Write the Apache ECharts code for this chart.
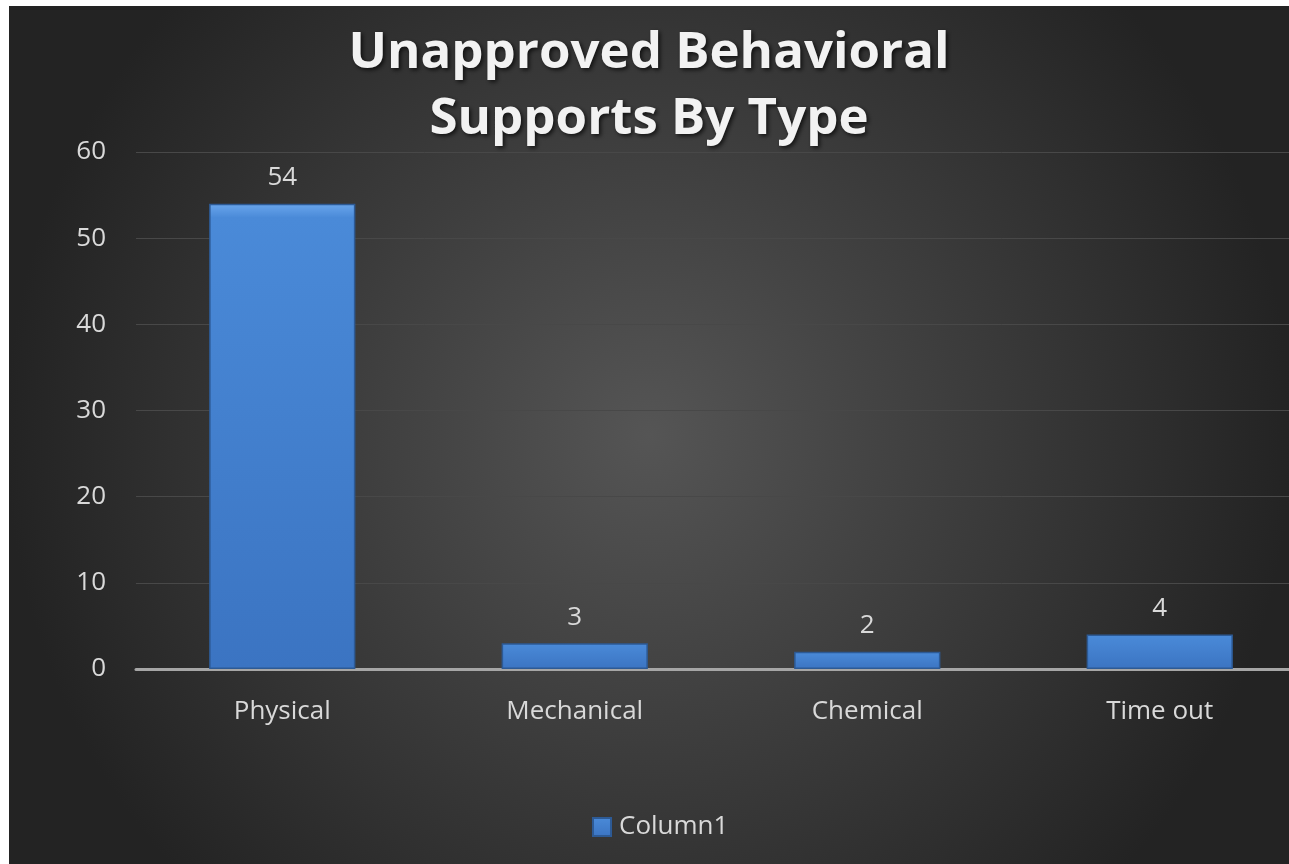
<!DOCTYPE html>
<html><head><meta charset="utf-8">
<script src="https://cdn.jsdelivr.net/npm/echarts@6/dist/echarts.min.js"></script>
<style>
html,body{margin:0;padding:0;background:#fff;width:1289px;height:864px;overflow:hidden}
#c{position:absolute;left:9px;top:6px;width:1280px;height:858px}
</style></head>
<body><div id="c"></div>
<script>
const categories = ["Physical", "Mechanical", "Chemical", "Time out"];
const values = [54, 3, 2, 4];
const seriesName = "Column1";
const titleText = "Unapproved Behavioral\nSupports By Type";

const chart = echarts.init(document.getElementById('c'), null, {renderer: 'canvas'});
chart.setOption({
  backgroundColor: {
    type: 'radial', x: 0.5, y: 0.5, r: 0.75,
    colorStops: [{offset: 0, color: '#555555'}, {offset: 1, color: '#232323'}]
  },
  animation: false,
  title: {
    text: titleText, left: 'center', top: 9, padding: [5, 5, 5, 19],
    textStyle: {
      color: '#f2f2f2', fontFamily: 'Open Sans', fontWeight: 'bold', fontSize: 51,
      lineHeight: 66, textShadowColor: 'rgba(0,0,0,0.7)', textShadowBlur: 4, textShadowOffsetX: 2, textShadowOffsetY: 2
    }
  },
  grid: {left: 127, top: 146, width: 1170, height: 517, containLabel: false, outerBoundsMode: 'none'},
  xAxis: {
    type: 'category', data: categories,
    axisLine: {lineStyle: {color: '#a6a6a6', width: 3}},
    axisTick: {show: false},
    axisLabel: {color: '#d9d9d9', fontSize: 26, fontFamily: 'Open Sans', margin: 30}
  },
  yAxis: {
    type: 'value', min: 0, max: 60, interval: 10,
    axisLine: {show: false}, axisTick: {show: false},
    axisLabel: {color: '#d9d9d9', fontSize: 26, fontFamily: 'Open Sans', margin: 30},
    splitLine: {lineStyle: {color: '#484848', width: 1}}
  },
  legend: {
    data: [seriesName], top: 803, left: 578,
    itemWidth: 18, itemHeight: 18, icon: 'rect', itemGap: 8,
    textStyle: {color: '#d9d9d9', fontSize: 26, fontFamily: 'Open Sans', padding: [0, 0, 0, 3]}
  },
  series: [{
    name: seriesName, type: 'bar', data: values, barWidth: '50%',
    itemStyle: {
      color: {type: 'linear', x: 0, y: 0, x2: 0, y2: 1, colorStops: [
        {offset: 0, color: '#6aa6ec'}, {offset: 0.03, color: '#4a8ad8'}, {offset: 1, color: '#3b74c2'}]},
      borderColor: '#2d5a95', borderWidth: 1.5
    },
    label: {show: true, position: 'top', distance: 13, color: '#d9d9d9', fontSize: 26, fontFamily: 'Open Sans'}
  }]
});
</script></body></html>
